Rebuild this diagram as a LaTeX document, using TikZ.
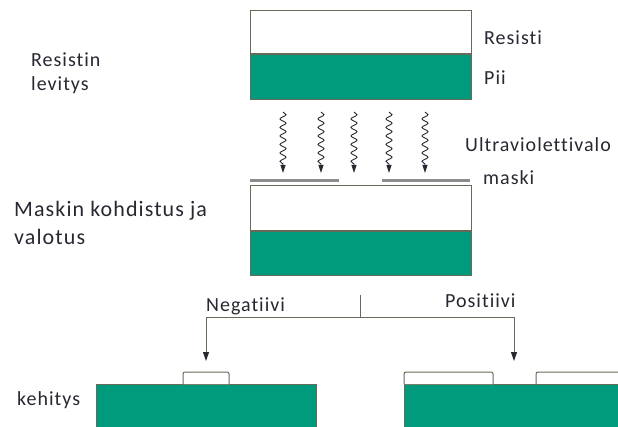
\documentclass[tikz,border=0pt]{standalone}
\usepackage{fontspec}
\setmainfont{Carlito}[LetterSpace=5, RawFeature=-liga]
\usetikzlibrary{positioning,calc,arrows.meta,decorations.pathmorphing}
\definecolor{piigreen}{RGB}{0,155,125}
\definecolor{edgegray}{RGB}{105,105,90}
\definecolor{maskgray}{RGB}{140,140,140}
\definecolor{inkdark}{RGB}{40,40,50}

\begin{document}
\begin{tikzpicture}[x=1pt,y=-1pt]
\tikzset{
  resist/.style={draw=edgegray, fill=white, line width=1pt, minimum width=221pt, inner sep=0pt, anchor=north west},
  pii/.style={draw=edgegray, fill=piigreen, line width=1pt, minimum width=221pt, inner sep=0pt, anchor=north west},
  tag/.style={anchor=base west, font=\fontsize{20}{24}\selectfont, text=inkdark, inner sep=0pt},
  bigtag/.style={anchor=base west, font=\fontsize{22}{28}\selectfont, text=inkdark, inner sep=0pt},
  uvray/.style={draw=inkdark, line width=0.9pt, decorate, decoration={snake, amplitude=3pt, segment length=8.5pt, post length=8pt}, -{Triangle[width=5pt,length=8pt]}},
  maskbar/.style={draw=maskgray, line width=3pt},
  bump/.style={draw=edgegray, fill=white, line width=1pt, rounded corners=2pt},
  branch/.style={draw=edgegray, line width=1pt},
  drop/.style={branch, -{Triangle[width=6pt,length=9pt,color=inkdark]}}
}
\useasboundingbox (0,0) rectangle (618,427);
\clip (0,0) rectangle (618,427);
\fill[white] (0,0) rectangle (618,427);

\node[resist, minimum height=43pt] (resist1) at (250,10) {};
\node[pii, minimum height=45pt] (pii1) at (resist1.south west) {};
\node[tag] (resisti) at (484,45) {Resisti};
\node[tag] (piitag) at (484,85) {Pii};
\node[tag, align=left] (levitys) at (31,90.7) {Resistin\\levitys};

\foreach \x in {283,321,354,389,425}
  \draw[uvray] (\x,112) -- (\x,173);
\node[tag] (uv) at (465,151.7) {Ultraviolettivalo};

\draw[maskbar] (250,181) -- (339,181);
\draw[maskbar] (382,181) -- (470,181);
\node[tag] (maski) at (483,185) {maski};

\node[resist, minimum height=45pt] (resist2) at (250,185) {};
\node[pii, minimum height=44pt] (pii2) at (resist2.south west) {};
\node[bigtag, align=left] (valotus) at (14,245) {Maskin kohdistus ja\\valotus};

\coordinate (tick) at (360,295);
\coordinate (split) at (360,318);
\coordinate (negend) at (206,361);
\coordinate (posend) at (514,361);
\draw[branch] (tick) -- (split);
\draw[drop] (split) -| (negend);
\draw[drop] (split) -| (posend);
\node[tag] (neg) at (206,312) {Negatiivi};
\node[tag] (pos) at (445,307.7) {Positiivi};

\draw[draw=edgegray, fill=piigreen, line width=1pt] (96,384) rectangle (316,440);
\draw[bump] (183,384) |- (229,372) -- (229,384);
\draw[draw=edgegray, fill=piigreen, line width=1pt] (404,384) rectangle (630,440);
\draw[bump] (404,384) |- (493,372) -- (493,384);
\draw[bump] (536,384) |- (630,372);
\node[tag] (kehitys) at (17,405) {kehitys};
\end{tikzpicture}
\end{document}
